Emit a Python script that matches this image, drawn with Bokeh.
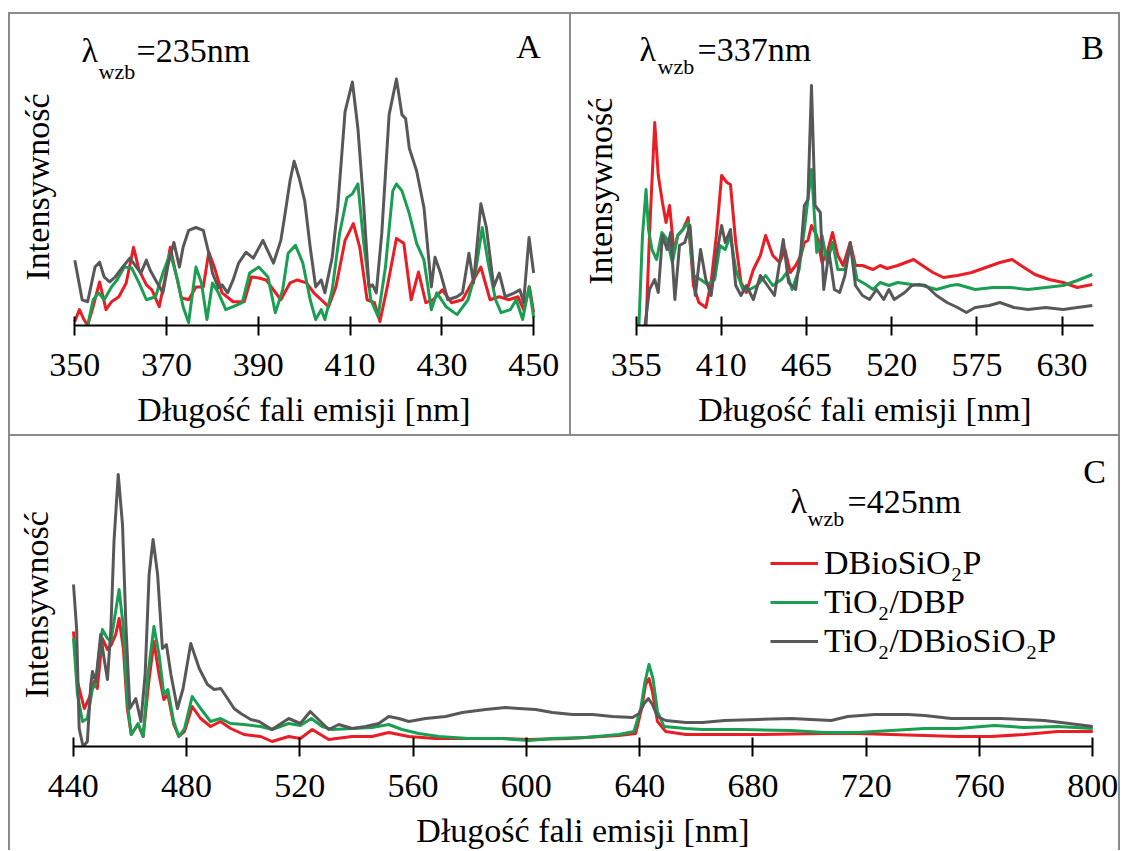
from bokeh.plotting import figure
from bokeh.models import Range1d, FixedTicker, Label, Legend, LegendItem, Spacer
from bokeh.layouts import column, row
from bokeh.embed import file_html
from bokeh.resources import INLINE

FONT = "Liberation Serif"
RED, GREEN, GRAY = "#ea1c24", "#1a9f52", "#585858"
SERIES = ["DBioSiO\u2082P", "TiO\u2082/DBP", "TiO\u2082/DBioSiO\u2082P"]
X_TITLE = "Długość fali emisji [nm]"
Y_TITLE = "Intensywność"
NBSP = "\u00a0"

# ---------------- Panel A (lambda_wzb = 235 nm) ----------------
A_ticks = [350, 370, 390, 410, 430, 450]
A_red_x = [350.0, 351.0, 352.0, 352.8, 354.0, 355.4, 356.8, 358.0, 359.6, 361.2, 362.8, 364.0, 365.6,
           366.8, 368.4, 369.6, 370.8, 372.0, 373.2, 374.8, 376.4, 378.0, 379.2, 380.4, 382.1, 384.5,
           386.9, 388.5, 390.1, 391.7, 393.3, 394.9, 396.9, 398.5, 400.5, 402.1, 403.7, 405.3, 406.9,
           408.9, 410.7, 412.1, 413.7, 415.3, 416.5, 418.1, 420.1, 421.7, 423.3, 424.9, 426.5, 428.1,
           430.1, 432.1, 434.5, 436.5, 438.5, 440.5, 442.5, 444.6, 446.6, 447.8, 449.1, 450.0]
A_red_y = [4, 16, 6, 0, 19, 44, 16, 24, 29, 43, 79, 56, 41,
           36, 19, 46, 79, 53, 28, 26, 39, 39, 74, 59, 33, 24,
           24, 49, 48, 46, 36, 26, 43, 46, 43, 33, 26, 19, 39,
           86, 103, 79, 26, 23, 4, 39, 88, 83, 26, 54, 23, 26,
           36, 23, 26, 43, 59, 26, 29, 26, 29, 16, 39, 13]
A_green_x = [352.8, 354.0, 355.2, 356.4, 358.0, 359.2, 360.8, 362.4, 364.0, 365.6, 367.6, 369.2, 370.8,
             372.4, 373.6, 374.8, 376.4, 377.6, 378.8, 380.0, 381.3, 382.9, 384.5, 386.5, 388.1, 390.1,
             392.1, 393.7, 395.3, 396.5, 398.1, 399.7, 401.3, 402.5, 403.7, 404.5, 406.1, 407.7, 409.3,
             410.5, 411.7, 412.9, 414.5, 416.1, 417.7, 419.3, 420.1, 421.3, 422.9, 424.5, 426.1, 427.7,
             428.9, 430.9, 433.3, 435.7, 437.3, 438.8, 440.1, 441.7, 442.9, 444.9, 446.2, 447.6, 449.0,
             450.0]
A_green_y = [0, 26, 33, 26, 39, 46, 59, 58, 43, 26, 29, 53, 73,
             46, 19, 3, 59, 43, 6, 43, 33, 16, 19, 23, 53, 59,
             49, 13, 36, 73, 81, 63, 26, 6, 16, 6, 36, 93, 129,
             133, 143, 86, 26, 9, 59, 136, 143, 136, 113, 83, 66, 16,
             33, 19, 11, 26, 53, 99, 63, 26, 13, 16, 26, 6, 39,
             8]
A_gray_x = [350.0, 351.6, 352.8, 354.4, 355.4, 356.4, 357.6, 358.8, 360.4, 362.0, 362.8, 364.4, 365.6,
            366.4, 367.6, 369.2, 370.4, 371.6, 372.8, 373.6, 374.8, 376.4, 378.0, 379.2, 380.0, 381.3,
            382.1, 383.3, 384.5, 385.7, 387.3, 388.9, 391.0, 393.3, 394.9, 395.7, 396.9, 397.8, 398.9,
            400.1, 401.3, 402.5, 403.7, 404.5, 406.1, 407.3, 408.9, 410.5, 411.7, 412.9, 414.1, 414.9,
            415.7, 416.9, 418.5, 420.1, 421.3, 422.1, 422.9, 424.5, 426.1, 427.7, 428.5, 429.7, 431.3,
            433.3, 434.5, 435.9, 436.9, 438.5, 439.7, 441.3, 442.5, 443.8, 445.8, 447.0, 447.8, 449.0,
            450.0]
A_gray_y = [66, 26, 24, 59, 64, 49, 44, 49, 59, 68, 63, 53, 66,
            56, 46, 33, 63, 84, 59, 79, 96, 99, 96, 73, 53, 38,
            41, 33, 46, 63, 74, 68, 86, 63, 86, 109, 146, 166, 149,
            126, 79, 39, 46, 33, 69, 119, 216, 246, 199, 126, 39, 41,
            33, 93, 213, 249, 213, 209, 179, 156, 119, 39, 69, 53, 26,
            29, 33, 73, 43, 123, 99, 39, 53, 29, 33, 36, 23, 89,
            53]

# ---------------- Panel B (lambda_wzb = 337 nm) ----------------
B_ticks = [355, 410, 465, 520, 575, 630]
B_red_x = [361.4, 363.6, 367.0, 369.3, 372.0, 374.3, 376.6, 379.5, 381.8, 385.2, 388.6, 392.0, 395.5,
           400.0, 403.4, 406.8, 410.2, 413.6, 415.9, 419.3, 422.7, 426.1, 430.7, 435.2, 438.6, 443.2,
           447.7, 451.1, 454.5, 458.0, 461.4, 463.6, 465.9, 468.2, 471.6, 475.0, 478.4, 481.8, 485.2,
           488.6, 493.2, 496.6, 501.1, 508.0, 512.5, 517.0, 523.9, 534.1, 539.8, 546.6, 553.4, 562.5,
           571.6, 580.7, 589.8, 597.7, 603.4, 612.5, 621.6, 630.7, 639.8, 649.5]
B_red_y = [0, 90, 203, 150, 123, 103, 120, 73, 90, 96, 108, 40, 23,
           18, 43, 90, 150, 143, 141, 83, 43, 33, 56, 70, 90, 70,
           63, 76, 53, 60, 70, 83, 85, 100, 90, 63, 73, 93, 70,
           60, 83, 60, 60, 56, 60, 57, 60, 66, 60, 53, 48, 50,
           53, 58, 63, 66, 60, 51, 46, 43, 38, 41]
B_green_x = [356.8, 359.1, 361.4, 363.0, 365.2, 368.2, 371.6, 375.0, 378.4, 381.8, 385.2, 388.6, 392.0,
             396.6, 401.1, 405.7, 409.1, 412.5, 415.9, 419.3, 423.9, 428.4, 433.0, 438.6, 443.2, 448.9,
             452.3, 455.7, 460.2, 463.6, 468.2, 471.6, 475.0, 478.4, 481.8, 485.2, 489.8, 493.2, 497.7,
             503.4, 508.0, 512.5, 518.2, 523.9, 533.0, 539.8, 548.9, 558.0, 562.5, 573.9, 585.2, 596.6,
             608.0, 619.3, 630.7, 639.8, 649.5]
B_green_y = [0, 90, 136, 96, 76, 66, 93, 86, 63, 90, 96, 103, 50,
             46, 41, 46, 80, 76, 90, 56, 36, 36, 40, 50, 40, 46,
             53, 36, 56, 96, 156, 73, 90, 63, 83, 56, 56, 80, 46,
             41, 36, 43, 40, 43, 41, 40, 36, 40, 41, 36, 38, 38,
             36, 38, 40, 45, 51]
B_gray_x = [360.7, 363.6, 367.0, 369.3, 372.0, 375.0, 377.3, 380.0, 383.0, 386.4, 389.8, 393.2, 396.6,
            400.0, 403.4, 406.8, 410.2, 412.5, 415.9, 419.3, 422.7, 426.1, 430.7, 435.2, 439.8, 444.3,
            450.0, 453.4, 458.0, 461.4, 463.6, 465.9, 468.2, 470.5, 473.9, 476.1, 479.5, 483.0, 486.4,
            489.8, 493.2, 496.6, 501.1, 505.7, 510.2, 514.8, 518.2, 521.6, 528.4, 533.0, 537.5, 542.0,
            548.9, 555.7, 562.5, 568.2, 573.9, 583.0, 589.8, 598.9, 608.0, 619.3, 630.7, 639.8, 649.5]
B_gray_y = [0, 36, 46, 33, 90, 76, 93, 26, 80, 83, 100, 30, 76,
            46, 30, 70, 100, 83, 96, 40, 30, 40, 26, 50, 40, 30,
            86, 43, 36, 76, 120, 126, 240, 120, 113, 36, 73, 36, 33,
            50, 83, 40, 30, 26, 36, 26, 36, 26, 33, 40, 41, 40,
            30, 23, 18, 13, 18, 20, 23, 18, 16, 18, 16, 18, 20]

# ---------------- Panel C (lambda_wzb = 425 nm) ----------------
C_ticks = [440, 480, 520, 560, 600, 640, 680, 720, 760, 800]
C_red_x = [440.1, 441.5, 443.9, 445.6, 447.4, 448.5, 450.3, 452.1, 453.5, 455.0, 456.2, 457.7, 459.1,
           460.5, 462.9, 464.7, 466.7, 468.5, 470.3, 472.0, 473.4, 475.5, 477.3, 479.3, 482.0, 485.0,
           488.5, 492.0, 495.6, 500.3, 506.2, 510.2, 516.1, 520.2, 524.4, 530.2, 538.5, 545.5, 551.4,
           558.5, 567.9, 579.7, 591.5, 600.9, 615.0, 632.7, 638.6, 640.7, 642.1, 643.3, 644.5, 646.3,
           649.2, 656.3, 662.2, 681.7, 705.3, 717.0, 728.8, 740.6, 752.3, 764.1, 775.8, 787.6, 800.0]
C_red_y = [115, 65, 38, 48, 65, 58, 108, 97, 102, 112, 128, 98, 38,
           12, 22, 10, 65, 105, 72, 47, 52, 22, 10, 15, 40, 28,
           20, 25, 18, 12, 10, 5, 10, 8, 17, 7, 10, 10, 14,
           10, 8, 8, 8, 7, 8, 11, 13, 38, 62, 68, 55, 25,
           15, 12, 12, 12, 13, 13, 12, 11, 10, 10, 12, 15, 15]
C_green_x = [440.1, 441.5, 443.3, 445.0, 446.8, 447.9, 449.1, 450.3, 452.1, 453.3, 454.8, 456.2, 457.6,
             459.1, 460.5, 462.9, 464.7, 466.4, 468.5, 470.3, 472.0, 473.4, 475.5, 477.3, 479.3, 482.0,
             485.0, 488.5, 492.0, 495.6, 500.3, 506.2, 510.2, 516.1, 520.2, 524.1, 527.9, 531.4, 538.5,
             545.5, 551.4, 556.1, 562.0, 569.1, 579.7, 591.5, 600.9, 609.2, 620.9, 632.7, 638.0, 640.4,
             641.9, 643.3, 644.7, 646.3, 648.6, 656.3, 662.2, 675.8, 693.5, 705.3, 717.0, 728.8, 740.6,
             752.3, 765.3, 775.8, 787.6, 800.0]
C_green_y = [108, 52, 25, 28, 58, 62, 92, 117, 108, 105, 132, 157, 122,
             45, 12, 23, 10, 72, 120, 92, 52, 57, 25, 10, 18, 50,
             38, 25, 28, 23, 22, 20, 17, 23, 21, 28, 20, 17, 18,
             19, 22, 17, 13, 10, 8, 8, 6, 8, 9, 12, 15, 38,
             65, 82, 68, 35, 20, 18, 17, 17, 16, 14, 14, 16, 18,
             18, 21, 19, 20, 18]
C_gray_x = [440.1, 441.2, 442.1, 443.5, 445.0, 446.2, 446.8, 448.0, 449.7, 450.9, 452.1, 453.3, 454.4,
            455.9, 457.4, 458.6, 460.0, 462.1, 463.9, 465.4, 466.8, 468.2, 469.8, 471.5, 472.9, 474.5,
            476.8, 478.8, 481.5, 484.5, 487.4, 489.8, 492.1, 494.5, 496.8, 499.2, 502.7, 505.6, 510.2,
            516.1, 520.2, 523.7, 527.3, 530.2, 533.8, 538.5, 543.2, 547.9, 551.4, 555.0, 558.5, 564.4,
            571.5, 577.4, 585.6, 592.7, 597.4, 603.3, 609.2, 616.3, 623.3, 630.4, 637.5, 639.8, 641.6,
            643.1, 644.5, 646.3, 649.2, 656.3, 662.2, 670.0, 681.7, 693.5, 707.6, 713.5, 722.9, 734.7,
            740.6, 750.0, 758.2, 767.6, 775.8, 782.9, 788.8, 800.0]
C_gray_y = [162, 118, 18, 0, 5, 62, 75, 65, 112, 88, 67, 118, 205,
            272, 222, 122, 38, 48, 25, 72, 172, 207, 172, 98, 102, 72,
            38, 58, 103, 78, 62, 57, 58, 48, 38, 33, 27, 25, 17,
            28, 23, 35, 25, 17, 22, 18, 20, 23, 30, 28, 25, 28,
            30, 34, 37, 39, 38, 37, 34, 32, 32, 30, 29, 33, 43,
            48, 42, 30, 26, 24, 24, 26, 27, 28, 26, 30, 32, 32,
            31, 28, 28, 28, 27, 26, 24, 20]

BORDER = "2px solid #8a8a8a"


def make_panel(width, height, xr, xb, yr, ticks, mb, y_standoff, y_pad, borders):
    p = figure(width=width, height=height, x_range=Range1d(*xr), y_range=Range1d(*yr),
               output_backend="svg", toolbar_location=None, title=None,
               min_border_left=mb[0], min_border_right=mb[1], min_border_top=mb[2], min_border_bottom=mb[3])
    p.grid.visible = False
    p.outline_line_color = None
    xa = p.xaxis[0]
    xa.bounds = xb
    xa.ticker = FixedTicker(ticks=ticks)
    xa.axis_line_color = "black"
    xa.axis_line_width = 2
    xa.major_tick_line_color = "black"
    xa.major_tick_line_width = 2
    xa.major_tick_in = 9
    xa.major_tick_out = 10
    xa.minor_tick_line_color = None
    xa.major_label_text_font = FONT
    xa.major_label_text_font_size = "34px"
    xa.major_label_text_color = "black"
    xa.major_label_standoff = 18
    xa.axis_label = X_TITLE
    xa.axis_label_text_font = FONT
    xa.axis_label_text_font_size = "34px"
    xa.axis_label_text_font_style = "normal"
    xa.axis_label_text_color = "black"
    xa.axis_label_standoff = 12
    ya = p.yaxis[0]
    ya.ticker = FixedTicker(ticks=[])
    ya.axis_line_color = None
    ya.major_tick_line_color = None
    ya.minor_tick_line_color = None
    ya.major_label_text_font_size = "0px"
    ya.axis_label = Y_TITLE + NBSP * y_pad
    ya.axis_label_text_font = FONT
    ya.axis_label_text_font_size = "34px"
    ya.axis_label_text_font_style = "normal"
    ya.axis_label_text_color = "black"
    ya.axis_label_standoff = y_standoff
    p.styles = borders
    return p


def add_lines(p, xs_ys):
    rs = []
    for (xs, ys), c in zip(xs_ys, [RED, GREEN, GRAY]):
        rs.append(p.line(xs, ys, line_color=c, line_width=3, line_join="round"))
    return rs


def add_text(p, frame_left, frame_bottom, px, py, txt, size, align="left"):
    # px, py: wanted page position of the text's left (or centre) and baseline
    lift = 12 if size > 30 else 3
    p.add_layout(Label(x=px - frame_left, y=frame_bottom - py + lift, x_units="screen", y_units="screen",
                       text=txt, text_font=FONT, text_font_size=f"{size}px",
                       text_color="black", text_align=align, text_baseline="alphabetic"))


# Panel A: frame page x 60..545 (axis 350..450 = 73.3..531.8), y 29..326
pA = make_panel(563, 422, (347.1, 452.8), (350, 450), (0, 297), A_ticks, (51, 27, 16, 109), 6, 2,
                {"border-top": BORDER, "border-left": BORDER, "border-right": BORDER})
add_lines(pA, [(A_red_x, A_red_y), (A_green_x, A_green_y), (A_gray_x, A_gray_y)])
for px, py, t, s, al in [(80, 63, "λ", 34, "left"), (97, 75, "wzb", 22, "left"),
                         (135, 63, "=235nm", 34, "left"), (527, 59, "A", 34, "center")]:
    add_text(pA, 60, 326, px, py, t, s, al)

# Panel B: frame page x 623..1108 (axis 355..650 = 636.7..1094), y 30..324
pB = make_panel(549, 422, (346.2, 659.3), (355, 650), (0, 294), B_ticks, (51, 13, 17, 111), 4, 3,
                {"border-top": BORDER, "border-right": BORDER})
add_lines(pB, [(B_red_x, B_red_y), (B_green_x, B_green_y), (B_gray_x, B_gray_y)])
for px, py, t, s, al in [(640, 60, "λ", 34, "left"), (658, 68, "wzb", 22, "left"),
                         (698, 60, "=337nm", 34, "left"), (1093, 58, "B", 34, "center")]:
    add_text(pB, 623, 324, px, py, t, s, al)

# Panel C: frame page x 55..1108 (axis 440..800 = 71.7..1091.5), y 453..745
pC = make_panel(1112, 416, (434.1, 805.9), (440, 800), (0, 292), C_ticks, (46, 13, 18, 106), 2, 1,
                {"border-top": BORDER, "border-left": BORDER, "border-right": BORDER})
rC = add_lines(pC, [(C_red_x, C_red_y), (C_green_x, C_green_y), (C_gray_x, C_gray_y)])
for px, py, t, s, al in [(789, 512, "λ", 34, "left"), (806, 520, "wzb", 22, "left"),
                         (846, 512, "=425nm", 34, "left"), (1093, 482, "C", 34, "center")]:
    add_text(pC, 55, 745, px, py, t, s, al)

legend = Legend(items=[LegendItem(label=s, renderers=[r]) for s, r in zip(SERIES, rC)],
                location=(714, 86), orientation="vertical",
                label_text_font=FONT, label_text_font_size="34px", label_text_color="black",
                glyph_width=48, glyph_height=30, label_standoff=6, spacing=1, padding=0, margin=0,
                border_line_color=None, background_fill_alpha=0)
pC.add_layout(legend)

layout = column(Spacer(height=12), row(Spacer(width=8), column(row(pA, pB), pC)))

with open("out.html", "w") as f:
    f.write(file_html(layout, INLINE))
